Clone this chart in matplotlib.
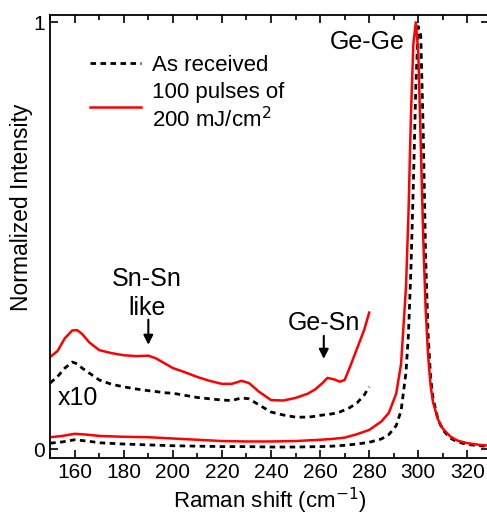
import numpy as np
import matplotlib.pyplot as plt

plt.rcParams['font.family'] = ['Liberation Sans', 'DejaVu Sans']

# full-scale spectra (normalized)
x_full = [150, 155, 160, 165, 170, 180, 190, 200, 210, 220, 230, 240, 250, 260, 265, 270,
          275, 280, 285, 288, 291, 293, 295, 296, 297, 298, 299, 300, 301, 302, 303, 304,
          305, 306, 308, 310, 313, 316, 320, 325, 329]
red_full = [0.028, 0.031, 0.036, 0.034, 0.031, 0.029, 0.028, 0.025, 0.022, 0.019, 0.018, 0.018,
            0.019, 0.022, 0.024, 0.027, 0.035, 0.045, 0.065, 0.085, 0.13, 0.2, 0.38, 0.55,
            0.78, 0.95, 1.0, 0.93, 0.72, 0.5, 0.33, 0.22, 0.15, 0.11, 0.07, 0.048, 0.03,
            0.02, 0.014, 0.01, 0.008]
blk_full = [0.014, 0.017, 0.022, 0.019, 0.015, 0.012, 0.010, 0.008, 0.007, 0.006, 0.006, 0.005,
            0.005, 0.006, 0.007, 0.009, 0.012, 0.016, 0.024, 0.034, 0.055, 0.09, 0.18, 0.27,
            0.42, 0.62, 0.85, 0.99, 0.97, 0.75, 0.45, 0.27, 0.17, 0.12, 0.07, 0.045, 0.026,
            0.017, 0.011, 0.008, 0.006]

# x10 magnified, offset spectra
x_mag = [150, 153, 156, 159, 161, 163, 166, 170, 175, 180, 185, 190, 193, 197, 200, 205, 210,
         215, 220, 224, 228, 231, 235, 240, 245, 250, 255, 258, 261, 263, 266, 268, 270,
         272, 275, 278, 280]
red_mag = [0.216, 0.23, 0.26, 0.278, 0.279, 0.27, 0.25, 0.232, 0.225, 0.22, 0.218, 0.219,
           0.213, 0.2, 0.19, 0.18, 0.169, 0.16, 0.153, 0.153, 0.16, 0.155, 0.135, 0.115,
           0.114, 0.12, 0.13, 0.14, 0.155, 0.167, 0.163, 0.158, 0.162, 0.19, 0.235, 0.28,
           0.32]
blk_mag = [0.155, 0.17, 0.19, 0.204, 0.2, 0.19, 0.178, 0.162, 0.152, 0.146, 0.141, 0.137,
           0.135, 0.132, 0.131, 0.126, 0.121, 0.118, 0.115, 0.114, 0.12, 0.118, 0.104, 0.087,
           0.08, 0.075, 0.075, 0.077, 0.08, 0.081, 0.084, 0.087, 0.092, 0.097, 0.108, 0.127,
           0.146]

fig = plt.figure(figsize=(4.87, 5.2), dpi=100)
ax = fig.add_axes([0.103, 0.119, 0.902, 0.852])

dash = (0, (2, 1.6))
ax.plot(x_full, blk_full, color='black', ls=dash, lw=2.0, label='As received')
ax.plot(x_full, red_full, color='red', lw=1.8, label='100 pulses of\n200 mJ/cm$^2$')
ax.plot(x_mag, blk_mag, color='black', ls=dash, lw=2.0)
ax.plot(x_mag, red_mag, color='red', lw=1.8)

ax.set_xlim(150, 329)
ax.set_ylim(-0.021, 1.017)
ax.set_xticks(np.arange(160, 330, 20))
ax.set_xticks(np.arange(150, 330, 10), minor=True)
ax.set_yticks([0, 1])
ax.set_yticklabels(['0', '1'])
ax.tick_params(which='both', direction='in', top=True, right=True, labelsize=15, width=1.2)
ax.tick_params(which='major', length=6)
ax.tick_params(which='minor', length=3.5)
for s in ax.spines.values():
    s.set_linewidth(1.3)

ax.set_xlabel('Raman shift (cm$^{-1}$)', fontsize=16, labelpad=3)
ax.set_ylabel('Normalized Intensity', fontsize=16.5)
ax.yaxis.set_label_coords(-0.04, 0.567)

ax.text(279, 0.955, 'Ge-Ge', fontsize=18, ha='center', va='center')
ax.text(189.5, 0.365, 'Sn-Sn\nlike', fontsize=18, ha='center', va='center', linespacing=1.25)
ax.text(261.5, 0.295, 'Ge-Sn', fontsize=18, ha='center', va='center')
ax.text(161.5, 0.12, 'x10', fontsize=18, ha='center', va='center')
ax.annotate('', xy=(190, 0.238), xytext=(190, 0.31),
            arrowprops=dict(arrowstyle='-|>', color='black', lw=1.5, mutation_scale=14))
ax.annotate('', xy=(261.5, 0.205), xytext=(261.5, 0.272),
            arrowprops=dict(arrowstyle='-|>', color='black', lw=1.5, mutation_scale=14))

ax.legend(loc='upper left', bbox_to_anchor=(0.07, 0.93), frameon=False, fontsize=16,
          handlelength=2.3, labelspacing=0.25, handletextpad=0.5, borderaxespad=0)

fig.savefig('out.png', dpi=100)
